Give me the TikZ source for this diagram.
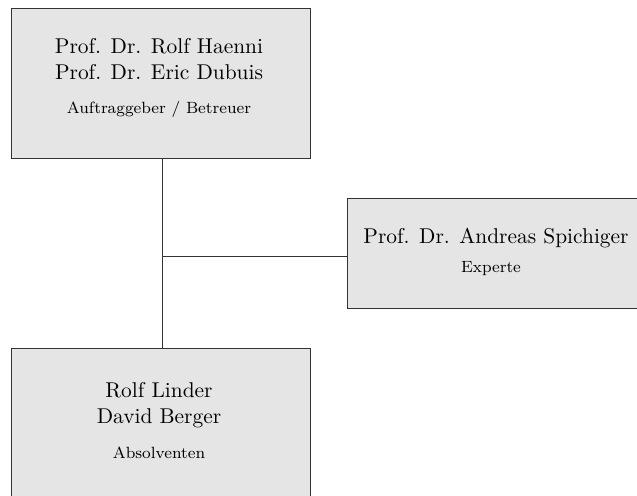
\documentclass[tikz,border=0pt]{standalone}
\begin{document}
\begin{tikzpicture}[x=0.467pt,y=-0.467pt,
  box/.style={draw=black!80,line width=0.4pt,fill=black!10,inner sep=0pt},
  person/.style={anchor=base,font=\normalsize,inner sep=0pt},
  role/.style={anchor=base,font=\fontsize{7.6}{9}\selectfont,inner sep=0pt},
  link/.style={draw=black!80,line width=0.4pt}]
  \useasboundingbox (0,0) rectangle (637,495);
  \begin{scope}
    \clip (0,0) rectangle (637,495);
    % boxes
    \node[box,minimum width=299*0.467pt,minimum height=150*0.467pt] (top) at (160.5,83) {};
    \node[box,minimum width=299*0.467pt,minimum height=110*0.467pt] (right) at (496.5,253) {};
    \node[box,minimum width=299*0.467pt,minimum height=152*0.467pt] (bot) at (160.5,424) {};
    % connectors
    \coordinate (j) at (162,256);
    \draw[link] (top.south -| j) -- (bot.north -| j);
    \draw[link] (j) -- (right.west |- j);
  \end{scope}
  % texts
  \node[person] (t1) at (159,53) {Prof. Dr. Rolf Haenni};
  \node[person] (t2) at (159,79) {Prof. Dr. Eric Dubuis};
  \node[role] (t3) at (159,113) {Auftraggeber / Betreuer};
  \node[person] (r1) at (496,243) {Prof. Dr. Andreas Spichiger};
  \node[role] (r2) at (491,272) {Experte};
  \node[person] (b1) at (159,397) {Rolf Linder};
  \node[person] (b2) at (159,423) {David Berger};
  \node[role] (b3) at (159,458) {Absolventen};
\end{tikzpicture}
\end{document}
